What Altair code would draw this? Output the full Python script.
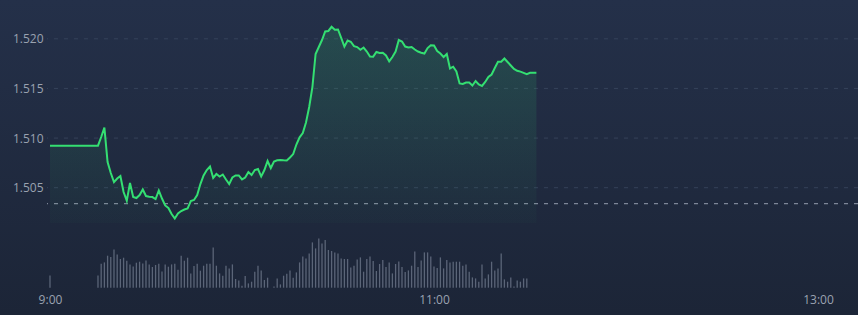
import altair as alt
import pandas as pd

DAY = "2024-01-02"

# price before the session opens (flat 9:00 - 9:15)
PRE_OPEN_PRICE = 1.50923
# one price per minute, from 9:15 to 11:32
prices = [
    1.50923, 1.51011, 1.51106, 1.50759, 1.50648, 1.50557, 1.50593, 1.50618, 1.50457, 1.50369,
    1.50547, 1.50406, 1.50396, 1.50426, 1.50482, 1.50416, 1.50409, 1.50406, 1.50386, 1.50472,
    1.50391, 1.50321, 1.50296, 1.50235, 1.50190, 1.50240, 1.50265, 1.50280, 1.50290, 1.50366,
    1.50376, 1.50426, 1.50537, 1.50623, 1.50678, 1.50714, 1.50598, 1.50638, 1.50613, 1.50633,
    1.50583, 1.50537, 1.50603, 1.50623, 1.50623, 1.50583, 1.50603, 1.50658, 1.50628, 1.50678,
    1.50688, 1.50613, 1.50678, 1.50769, 1.50698, 1.50764, 1.50776, 1.50779, 1.50776, 1.50774,
    1.50804, 1.50839, 1.50935, 1.51008, 1.51051, 1.51157, 1.51313, 1.51514, 1.51847, 1.51917,
    1.51988, 1.52074, 1.52079, 1.52121, 1.52092, 1.52094, 1.52010, 1.51922, 1.51983, 1.51970,
    1.51926, 1.51917, 1.51890, 1.51912, 1.51872, 1.51822, 1.51820, 1.51867, 1.51857, 1.51860,
    1.51832, 1.51773, 1.51817, 1.51872, 1.51988, 1.51973, 1.51922, 1.51912, 1.51917, 1.51892,
    1.51872, 1.51859, 1.51852, 1.51907, 1.51935, 1.51932, 1.51877, 1.51852, 1.51817, 1.51847,
    1.51701, 1.51719, 1.51671, 1.51550, 1.51545, 1.51560, 1.51560, 1.51530, 1.51575, 1.51540,
    1.51525, 1.51565, 1.51615, 1.51640, 1.51706, 1.51769, 1.51769, 1.51802, 1.51766, 1.51731,
    1.51696, 1.51678, 1.51669, 1.51657, 1.51643, 1.51658, 1.51658, 1.51658,
]

# volume of the 9:00 auction, then one bar per minute from 9:15
OPEN_VOLUME = 1230
volumes = [
    1230, 2400, 2530, 3200, 3070, 3830, 3330, 2870, 3000, 2700,
    2330, 2130, 2500, 2600, 2430, 2730, 2330, 2070, 2270, 2400,
    1630, 2330, 2100, 2330, 2400, 1800, 3200, 2700, 3000, 1430,
    2170, 2400, 1700, 2200, 2400, 2400, 4030, 2200, 1430, 1200,
    2200, 1930, 2330, 870, 730, 200, 1170, 430, 600, 1600,
    2200, 1730, 770, 1000, 0, 130, 930, 330, 1200, 1400,
    1730, 1000, 1530, 2530, 3130, 2930, 3430, 4530, 3930, 4930,
    4430, 4770, 3770, 3670, 3530, 3430, 2930, 2870, 2870, 2030,
    2200, 2830, 3030, 1600, 2870, 3130, 2670, 1670, 2370, 2770,
    2070, 2530, 1430, 2370, 2630, 2070, 1570, 1730, 2200, 3630,
    2070, 2730, 3530, 3530, 3130, 2130, 1970, 3030, 1930, 2770,
    2530, 2600, 2600, 2600, 2200, 2330, 1600, 1030, 930, 600,
    2330, 930, 1330, 2600, 1730, 1930, 3430, 830, 600, 1030,
    130, 730, 600, 930, 930,
]

PREV_CLOSE = 1.50339
AREA_BASE = 1.50144
grid_values = [1.505, 1.510, 1.515, 1.520]

open_t = pd.Timestamp(f"{DAY} 09:00")
price_times = pd.date_range(f"{DAY} 09:15", periods=len(prices), freq="min")
vol_times = pd.date_range(f"{DAY} 09:15", periods=len(volumes), freq="min")

line_df = pd.DataFrame({"t": [open_t] + list(price_times), "price": [PRE_OPEN_PRICE] + prices})
vol_df = pd.DataFrame({"t": [open_t] + list(vol_times), "vol": [OPEN_VOLUME] + volumes})
grid_df = pd.DataFrame({"g": grid_values})
ref_df = pd.DataFrame({"p": [PREV_CLOSE]})
one_df = pd.DataFrame({"k": [0]})

LABEL_COLOR = "#9aa2b0"
FONT = "Open Sans"


def dt(h, m, s=0):
    return alt.DateTime(year=2024, month=1, date=2, hours=h, minutes=m, seconds=s)


xscale = alt.Scale(domain=[dt(8, 59, 4), dt(13, 12, 30)])
xaxis = alt.Axis(
    values=[dt(9, 0), dt(11, 0), dt(13, 0)], format="%-H:%M", title=None,
    labelColor=LABEL_COLOR, labelFont=FONT, labelFontSize=12, labelPadding=4,
    labelFlush=False, tickSize=0, domain=False, grid=False, zindex=1,
)
xenc = alt.X("t:T", scale=xscale, axis=xaxis)

yscale = alt.Scale(domain=[1.494695, 1.523909], nice=False, zero=False)
yaxis = alt.Axis(
    values=grid_values, format=".3f", title=None,
    labelColor=LABEL_COLOR, labelFont=FONT, labelFontSize=12, labelPadding=4,
    tickSize=0, domain=False, grid=False, zindex=1,
)

bg = alt.Chart(one_df).mark_rect(
    fill=alt.LinearGradient(
        gradient="linear", x1=0, x2=0, y1=0, y2=1,
        stops=[alt.GradientStop(color="#243049", offset=0),
               alt.GradientStop(color="#1c2537", offset=1)],
    )
).encode(x=alt.value(-47), x2=alt.value(811), y=alt.value(0), y2=alt.value(315))

grid = alt.Chart(grid_df).mark_rule(
    color="#35425a", strokeDash=[4, 6], strokeWidth=1
).encode(y=alt.Y("g:Q", scale=yscale, axis=yaxis))

ref = alt.Chart(ref_df).mark_rule(
    color="#7d8698", strokeDash=[4, 6], strokeWidth=1.3
).encode(y=alt.Y("p:Q", scale=yscale, axis=yaxis))

area = alt.Chart(line_df).mark_area(
    fill=alt.LinearGradient(
        gradient="linear", x1=0, x2=0, y1=0, y2=1,
        stops=[alt.GradientStop(color="rgba(52,224,115,0.16)", offset=0),
               alt.GradientStop(color="rgba(52,224,115,0.02)", offset=1)],
    )
).encode(x=xenc, y=alt.Y("price:Q", scale=yscale, axis=yaxis), y2=alt.datum(AREA_BASE))

line = alt.Chart(line_df).mark_line(
    color="#34df72", strokeWidth=2
).encode(x=xenc, y=alt.Y("price:Q", scale=yscale, axis=yaxis))

price_layer = alt.layer(bg, grid, ref, area, line)

vol = alt.Chart(vol_df).mark_rule(color="#5b6578", strokeWidth=1.3).encode(
    x=xenc,
    y=alt.Y("vol:Q", scale=alt.Scale(domain=[-230, 28770], nice=False, zero=False), axis=None),
    y2=alt.datum(0),
)

chart = (
    alt.layer(price_layer, vol)
    .resolve_scale(y="independent")
    .properties(
        width=811, height=290,
        autosize=alt.AutoSizeParams(type="none"),
        padding={"left": 47, "right": 0, "top": 0, "bottom": 25},
        background="#202a3f",
    )
    .configure_view(stroke=None)
)

chart.save("out.html", embed_options={"renderer": "svg", "actions": False})
